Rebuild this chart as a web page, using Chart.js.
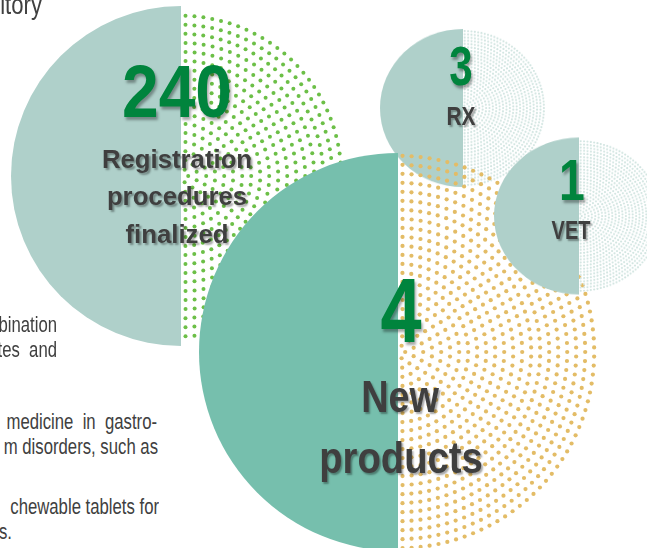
<!DOCTYPE html>
<html>
<head>
<meta charset="utf-8">
<script src="https://cdn.jsdelivr.net/npm/chart.js@4"></script>
<style>
  html, body { margin: 0; padding: 0; background: #fff; }
  body { width: 647px; height: 548px; position: relative; overflow: hidden; }
  canvas { position: absolute; }
  .txt { position: absolute; white-space: nowrap; font-family: "Liberation Sans", Arial, sans-serif; }
  .num { color: #00843d; font-weight: bold; text-shadow: 2px 3px 3px rgba(0,0,0,0.35); }
  .lbl { color: #3f3f3f; font-weight: bold; text-shadow: 2px 2px 2px rgba(0,0,0,0.35); }
  .para { color: #404040; }
</style>
</head>
<body>
<script>
// figures shown in each circle
const circleNumbers = ['240', '3', '4', '1'];
const circleLabels = [['Registration', 'procedures', 'finalized'], ['RX'], ['New', 'products'], ['VET']];
// every circle is split into two equal halves: dotted (right) and solid (left)
const halfLabels = ['dotted', 'solid'];
const halfShares = [50, 50];

// cut-off paragraph lines on the left
const paraLines = ['itory', 'bination', 'tes  and', 'medicine  in  gastro-', 'm disorders, such as', 'chewable tablets for', 's.'];

// circle layout, drawn in this order (later ones on top)
const circles = [
    { left: 11, top: 6, size: 340, sy: 1, solid: '#afd0ca', dot: '#6cbf47', step: 9, dotR: 2 },
    { left: 380, top: 25, size: 166, sy: 0.952, solid: '#afd0ca', dot: '#d2e5e1', step: 3.4, dotR: 1.1 },
    { left: 199, top: 153, size: 398, sy: 1, solid: '#76bfad', dot: '#e3bc66', step: 9, dotR: 2.1 },
    { left: 494, top: 131, size: 170, sy: 0.924, solid: '#afd0ca', dot: '#d2e5e1', step: 3.4, dotR: 1.1 }
];

// text placement: [cx, baseline, font size, scaleX]
const numPos = [[177, 117, 75, 0.88], [461, 85, 56, 0.75], [401, 342, 90, 0.82], [572, 200, 58, 0.8]];
const lblPos = [
    [[177, 168, 26, 0.99], [177, 205, 26, 0.99], [177, 243, 26, 0.99]],
    [[461, 125, 26, 0.8]],
    [[400, 412, 45, 0.84], [401, 473, 45, 0.85]],
    [[571, 239, 25, 0.8]]
];
// paragraph lines: [right edge, baseline, font size]
const paraPos = [[42, 15, 27], [57, 333, 22], [57, 358, 22], [157, 430, 22], [158, 455, 22], [159, 515, 22], [12, 540, 22]];

const makeDots = (c) => {
    const off = document.createElement('canvas');
    off.width = c.size;
    off.height = c.size;
    const g = off.getContext('2d');
    g.fillStyle = c.dot;
    const cx = c.size / 2, cy = c.size / 2, r = c.size / 2;
    for (let R = c.step * 0.8; R <= r - c.dotR; R += c.step) {
        const n = Math.max(1, Math.round(Math.PI * R / c.step));
        for (let i = 0; i < n; i++) {
            const a = -Math.PI / 2 + (i + 0.5) * Math.PI / n;
            g.beginPath();
            g.arc(cx + R * Math.cos(a), cy + R * Math.sin(a), c.dotR, 0, Math.PI * 2);
            g.fill();
        }
    }
    return off;
};

circles.forEach((c, k) => {
    const canvas = document.createElement('canvas');
    canvas.width = c.size;
    canvas.height = c.size;
    canvas.style.left = c.left + 'px';
    canvas.style.top = c.top + 'px';
    canvas.style.width = c.size + 'px';
    canvas.style.height = c.size + 'px';
    canvas.style.transform = 'scaleY(' + c.sy + ')';
    canvas.style.zIndex = k + 1;
    document.body.appendChild(canvas);
    const pattern = canvas.getContext('2d').createPattern(makeDots(c), 'no-repeat');

    new Chart(canvas, {
        type: 'pie',
        data: {
            labels: halfLabels,
            datasets: [{
                data: halfShares,
                backgroundColor: [pattern, c.solid],
                borderWidth: 0,
                hoverOffset: 0
            }]
        },
        options: {
            responsive: false,
            animation: false,
            events: [],
            layout: { padding: 0 },
            plugins: {
                legend: { display: false },
                tooltip: { enabled: false }
            }
        }
    });
});

const addText = (txt, x, baseline, fs, sx, cls, align) => {
    const d = document.createElement('div');
    d.className = 'txt ' + cls;
    d.textContent = txt;
    d.style.fontSize = fs + 'px';
    d.style.lineHeight = fs + 'px';
    d.style.top = (baseline - 0.8465 * fs) + 'px';
    d.style.width = '400px';
    d.style.zIndex = 10;
    if (align === 'right') {
        d.style.left = (x - 400) + 'px';
        d.style.textAlign = 'right';
        d.style.transformOrigin = 'right center';
        d.style.whiteSpace = 'pre';
    } else {
        d.style.left = (x - 200) + 'px';
        d.style.textAlign = 'center';
        d.style.transformOrigin = 'center center';
    }
    d.style.transform = 'scaleX(' + sx + ')';
    document.body.appendChild(d);
};

circleNumbers.forEach((n, i) => {
    const p = numPos[i];
    addText(n, p[0], p[1], p[2], p[3], 'num');
    circleLabels[i].forEach((line, j) => {
        const q = lblPos[i][j];
        addText(line, q[0], q[1], q[2], q[3], 'lbl');
    });
});

paraLines.forEach((line, i) => {
    const p = paraPos[i];
    addText(line, p[0], p[1], p[2], i === 0 ? 0.82 : 0.76, 'para', 'right');
});
</script>
</body>
</html>
